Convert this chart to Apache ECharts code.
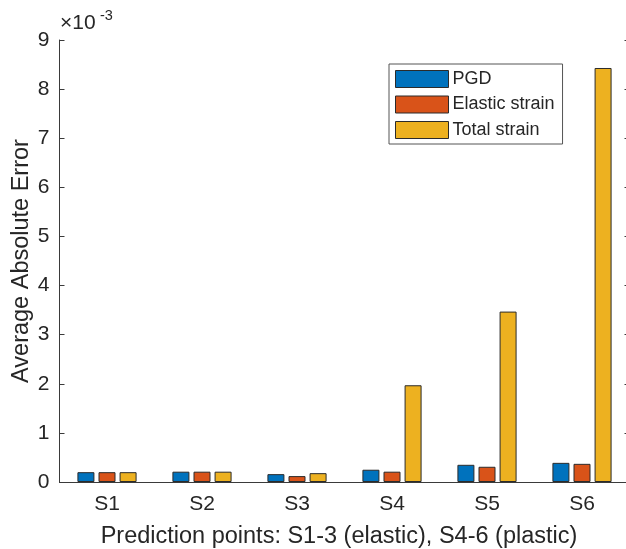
<!DOCTYPE html>
<html>
<head>
<meta charset="utf-8">
<script src="https://cdn.jsdelivr.net/npm/echarts@6/dist/echarts.min.js"></script>
<style>
  html, body { margin: 0; padding: 0; background: #ffffff; }
  #chart { width: 626px; height: 549px; }
</style>
</head>
<body>
<div id="chart"></div>
<script>
// Prediction points and average absolute errors (values in units of 1e-3)
const categories = ['S1', 'S2', 'S3', 'S4', 'S5', 'S6'];
const pgdError = [0.20, 0.21, 0.16, 0.25, 0.35, 0.39];
const elasticStrainError = [0.20, 0.21, 0.12, 0.21, 0.31, 0.37];
const totalStrainError = [0.20, 0.21, 0.18, 1.97, 3.47, 8.43];
const seriesNames = ['PGD', 'Elastic strain', 'Total strain'];
const yMin = 0;
const yMax = 9;
const yStep = 1;

const FONT = '"Liberation Sans", Arial, Helvetica, sans-serif';
const AXIS_COLOR = '#3a3a3a';
const TEXT_COLOR = '#262626';
const colors = ['#0072BD', '#D95319', '#EDB120'];

const chart = echarts.init(document.getElementById('chart'), null, { renderer: 'canvas' });

const barStyle = (c) => ({ color: c, borderColor: '#2b2b2b', borderWidth: 1 });

const option = {
  animation: false,
  backgroundColor: '#ffffff',
  textStyle: { fontFamily: FONT, color: TEXT_COLOR },
  grid: { left: 59.5, top: 40, width: 570, height: 442, containLabel: false, outerBoundsMode: 'none' },
  legend: {
    data: seriesNames,
    orient: 'vertical',
    left: 389,
    top: 64,
    padding: [6, 8, 5, 6],
    itemWidth: 53,
    itemHeight: 17,
    itemGap: 7.5,
    icon: 'rect',
    borderColor: '#555555',
    borderWidth: 1,
    backgroundColor: '#ffffff',
    itemStyle: { borderColor: '#2b2b2b', borderWidth: 1 },
    textStyle: { fontFamily: FONT, fontSize: 18, color: TEXT_COLOR, padding: [0, 0, 0, -1] }
  },
  xAxis: [
    {
      type: 'category',
      data: categories,
      position: 'bottom',
      z: 10,
      boundaryGap: true,
      axisLine: { lineStyle: { color: AXIS_COLOR, width: 1 } },
      axisTick: { inside: true, alignWithLabel: true, length: 5, lineStyle: { color: AXIS_COLOR } },
      axisLabel: { fontFamily: FONT, fontSize: 21, color: TEXT_COLOR, margin: 12 },
      name: 'Prediction points: S1-3 (elastic), S4-6 (plastic)',
      nameLocation: 'middle',
      nameGap: 43,
      nameMoveOverlap: false,
      nameTextStyle: { fontFamily: FONT, fontSize: 23.5, color: TEXT_COLOR, padding: [0, 11, 0, 0] }
    },
    {
      type: 'category',
      data: categories,
      position: 'top',
      z: 10,
      boundaryGap: true,
      axisLine: { lineStyle: { color: AXIS_COLOR, width: 1 } },
      axisTick: { inside: true, alignWithLabel: true, length: 5, lineStyle: { color: AXIS_COLOR } },
      axisLabel: { show: false }
    }
  ],
  yAxis: [
    {
      type: 'value',
      min: yMin,
      max: yMax,
      interval: yStep,
      position: 'left',
      z: 10,
      splitLine: { show: false },
      axisLine: { show: true, lineStyle: { color: AXIS_COLOR, width: 1 } },
      axisTick: { show: true, inside: true, length: 5, lineStyle: { color: AXIS_COLOR } },
      axisLabel: { fontFamily: FONT, fontSize: 21, color: TEXT_COLOR, margin: 10 },
      name: 'Average Absolute Error',
      nameLocation: 'middle',
      nameGap: 26,
      nameRotate: 90,
      nameMoveOverlap: false,
      nameTextStyle: { fontFamily: FONT, fontSize: 23.5, color: TEXT_COLOR }
    },
    {
      type: 'value',
      min: yMin,
      max: yMax,
      interval: yStep,
      position: 'right',
      z: 10,
      splitLine: { show: false },
      axisLine: { show: true, lineStyle: { color: AXIS_COLOR, width: 1 } },
      axisTick: { show: true, inside: true, length: 5, lineStyle: { color: AXIS_COLOR } },
      axisLabel: { show: false }
    }
  ],
  series: [
    { name: seriesNames[0], type: 'bar', data: pgdError, barWidth: 17, barGap: '24%', itemStyle: barStyle(colors[0]) },
    { name: seriesNames[1], type: 'bar', data: elasticStrainError, barWidth: 17, barGap: '24%', itemStyle: barStyle(colors[1]) },
    { name: seriesNames[2], type: 'bar', data: totalStrainError, barWidth: 17, barGap: '24%', itemStyle: barStyle(colors[2]) }
  ],
  graphic: [
    {
      type: 'text',
      left: 60,
      top: 13,
      style: { text: '×10', fontFamily: FONT, fontSize: 21, fill: TEXT_COLOR }
    },
    {
      type: 'text',
      left: 100,
      top: 8,
      style: { text: '-3', fontFamily: FONT, fontSize: 14.5, fill: TEXT_COLOR }
    }
  ]
};

chart.setOption(option);
</script>
</body>
</html>
